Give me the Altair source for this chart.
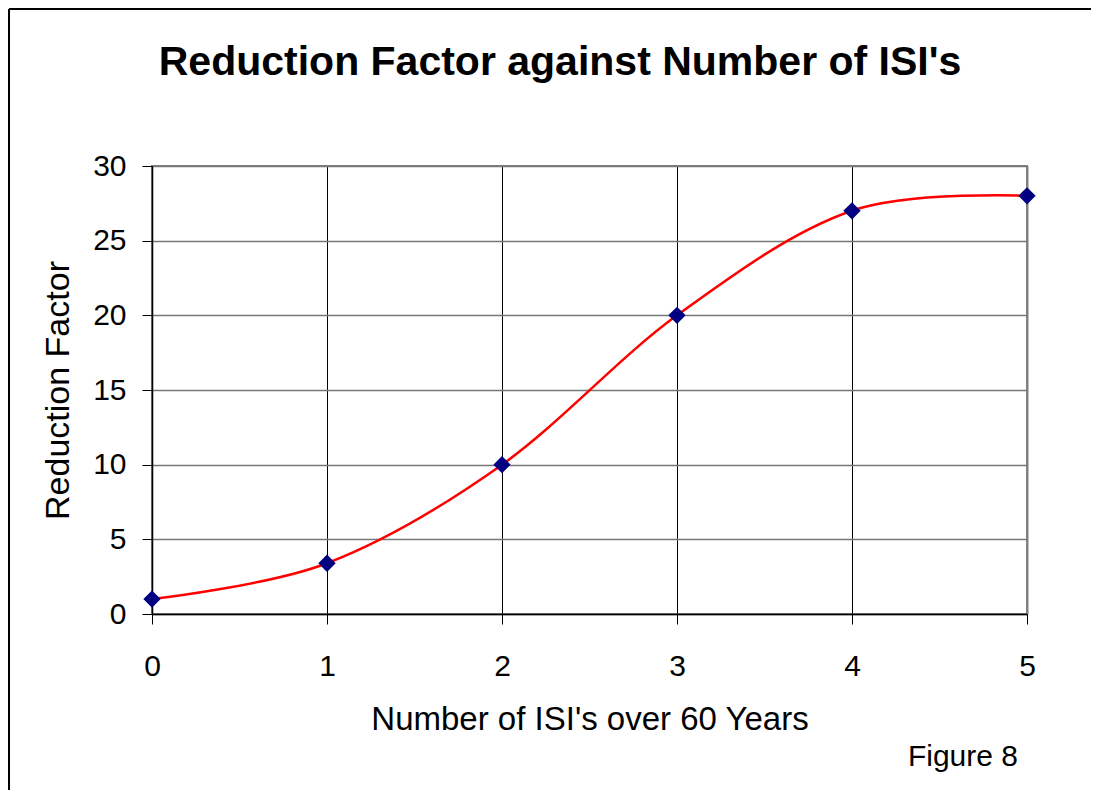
import altair as alt
import pandas as pd

# Data
isi_counts = [0, 1, 2, 3, 4, 5]
reduction_factor = [1.0, 3.4, 10.0, 20.0, 27.0, 28.0]
x_ticks = [0, 1, 2, 3, 4, 5]
y_ticks = [0, 5, 10, 15, 20, 25, 30]
chart_title = ["Reduction Factor against Number of ISI's"]
caption_text = ["Figure 8"]

df = pd.DataFrame({"isi": isi_counts, "rf": reduction_factor})

FONT = "Liberation Sans"
W, H = 875, 448
PAD_L, PAD_T, PAD_R, PAD_B = 144, 158, 64, 176

x_enc = alt.X(
    "isi:Q",
    scale=alt.Scale(domain=[0, 5], nice=False, zero=False),
    axis=alt.Axis(
        values=x_ticks, format="d", labelAngle=0, labelFlush=False,
        title="Number of ISI's over 60 Years",
        tickSize=10, tickColor="black", tickWidth=1,
        domainColor="black", domainWidth=1.5,
        labelFont=FONT, labelFontSize=30, labelColor="black", labelPadding=27,
        titleFont=FONT, titleFontSize=33, titleFontWeight="normal", titleColor="black",
        titlePadding=22,
        grid=True,
        gridColor={"condition": {"test": "datum.value == 5", "value": "#808080"}, "value": "black"},
        gridWidth={"condition": {"test": "datum.value == 5", "value": 2}, "value": 1},
        gridOpacity=1,
    ),
)
y_enc = alt.Y(
    "rf:Q",
    scale=alt.Scale(domain=[0, 30], nice=False),
    axis=alt.Axis(
        values=y_ticks, format="d", labelFlush=False,
        title="Reduction Factor",
        tickSize=10, tickColor="black", tickWidth=1,
        domainColor="black", domainWidth=1.5,
        labelFont=FONT, labelFontSize=30, labelColor="black", labelPadding=16,
        titleFont=FONT, titleFontSize=34, titleFontWeight="normal", titleColor="black",
        titlePadding=17,
        grid=True, gridColor="#777777", gridWidth=1.5, gridOpacity=1,
    ),
)

base = alt.Chart(df)

line = base.mark_line(color="#FF0000", strokeWidth=2.5, interpolate="cardinal", tension=0).encode(
    x=x_enc, y=y_enc
)
points = base.mark_point(shape="diamond", filled=True, color="#000080", size=300, opacity=1).encode(
    x="isi:Q", y="rf:Q"
)

title_mark = alt.Chart(pd.DataFrame({"t": chart_title})).mark_text(
    font=FONT, fontSize=41, fontWeight="bold", color="black", align="center", baseline="alphabetic"
).encode(text="t:N", x=alt.value(408), y=alt.value(-91))

caption = alt.Chart(pd.DataFrame({"t": caption_text})).mark_text(
    font=FONT, fontSize=30, color="black", align="right", baseline="alphabetic"
).encode(text="t:N", x=alt.value(866), y=alt.value(600))

frame_left = alt.Chart(pd.DataFrame({"a": [0]})).mark_rule(color="black", strokeWidth=2).encode(
    x=alt.value(-143), y=alt.value(-157), y2=alt.value(H + PAD_B)
)
frame_top = alt.Chart(pd.DataFrame({"a": [0]})).mark_rule(color="black", strokeWidth=2).encode(
    x=alt.value(-143), x2=alt.value(W + PAD_R), y=alt.value(-157)
)

chart = alt.layer(line, points, title_mark, caption, frame_left, frame_top).properties(
    width=W, height=H,
    autosize=alt.AutoSizeParams(type="none"),
    padding={"left": PAD_L, "top": PAD_T, "right": PAD_R, "bottom": PAD_B},
    background="white",
).configure_view(stroke="#808080", strokeWidth=2)

chart.save("out.html", embed_options={"renderer": "svg", "actions": False})
